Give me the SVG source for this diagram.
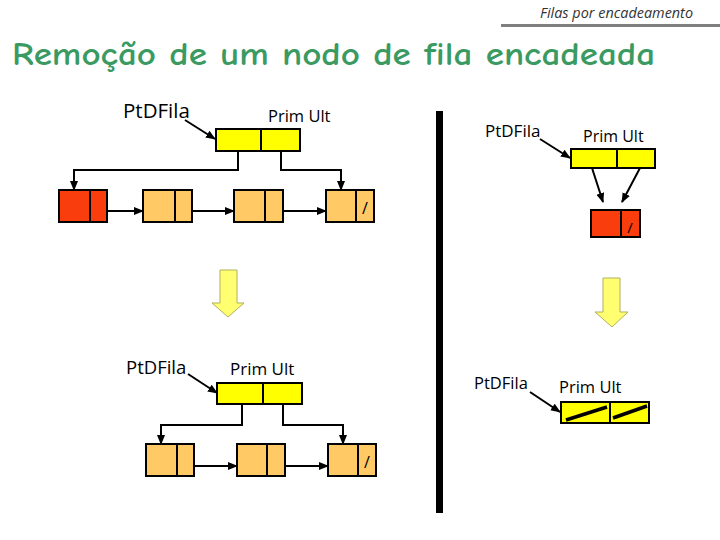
<svg xmlns="http://www.w3.org/2000/svg" width="720" height="540" viewBox="0 0 720 540">
<defs>
<style>
.cal{font-family:"Open Sans","Liberation Sans",sans-serif;fill:#000}
.box{stroke:#000;stroke-width:2}
.yel{fill:#FFFF00}
.org{fill:#FFC966}
.red{fill:#F93D0C}
.ln{fill:none;stroke:#000;stroke-width:2}
.bar{fill:#FFFF70;stroke:#B0B060;stroke-width:1}
</style>
<marker id="ah" markerWidth="10" markerHeight="10" refX="9" refY="5" orient="auto" markerUnits="userSpaceOnUse">
<path d="M0,1 L10,5 L0,9 Z" fill="#000"/>
</marker>
</defs>
<rect width="720" height="540" fill="#fff"/>
<g id="header">
<text x="540" y="18" font-family="'Open Sans','Liberation Sans',sans-serif" font-style="italic" font-size="14" fill="#333" textLength="153" lengthAdjust="spacingAndGlyphs">Filas por encadeamento</text>
<rect x="501" y="24" width="219" height="3" fill="#7F7F7F"/>
</g>
<g id="title">
<text x="12" y="65" font-family="'Comic Neue','DejaVu Sans',sans-serif" font-weight="bold" font-size="32" fill="#3A9A62" textLength="643" lengthAdjust="spacingAndGlyphs">Remoção de um nodo de fila encadeada</text>
</g>
<g id="divider"><rect x="436" y="111" width="7" height="402" fill="#000"/></g>

<!-- Top left -->
<g id="tl-label"><text class="cal" x="123" y="118" font-size="20.5">PtDFila</text><text class="cal" x="268" y="122" font-size="16.5">Prim Ult</text></g>
<g id="tl-head"><rect class="box yel" x="216" y="129" width="84" height="22"/><line class="ln" x1="261" y1="129" x2="261" y2="151"/></g>
<g id="tl-n1"><rect class="box red" x="59" y="190" width="48" height="32"/><line class="ln" x1="90" y1="190" x2="90" y2="222"/></g>
<g id="tl-n2"><rect class="box org" x="143" y="190" width="49" height="32"/><line class="ln" x1="175" y1="190" x2="175" y2="222"/></g>
<g id="tl-n3"><rect class="box org" x="234" y="190" width="49" height="32"/><line class="ln" x1="265" y1="190" x2="265" y2="222"/></g>
<g id="tl-n4"><rect class="box org" x="326" y="190" width="48" height="32"/><line class="ln" x1="356" y1="190" x2="356" y2="222"/><text class="cal" x="365" y="214" font-size="16" text-anchor="middle">/</text></g>

<!-- Top right -->
<g id="tr-label"><text class="cal" x="485" y="137" font-size="17">PtDFila</text><text class="cal" x="583" y="142" font-size="16">Prim  Ult</text></g>
<g id="tr-head"><rect class="box yel" x="571" y="149" width="84" height="19"/><line class="ln" x1="617" y1="149" x2="617" y2="168"/></g>
<g id="tr-n1"><rect class="box red" x="591" y="210" width="49" height="27"/><line class="ln" x1="621" y1="210" x2="621" y2="237"/><text class="cal" x="630" y="233" font-size="15" text-anchor="middle">/</text></g>

<!-- Block arrows -->
<g id="down1"><path class="bar" d="M220,270 L237,270 L237,303 L244,303 L228,317 L212,303 L220,303 Z"/></g>
<g id="down2"><path class="bar" d="M603,278 L620,278 L620,312 L628,312 L612,327 L595,312 L603,312 Z"/></g>

<!-- Bottom left -->
<g id="bl-label"><text class="cal" x="126" y="374" font-size="18.5">PtDFila</text><text class="cal" x="230" y="375" font-size="17">Prim Ult</text></g>
<g id="bl-head"><rect class="box yel" x="217" y="383" width="85" height="21"/><line class="ln" x1="263" y1="383" x2="263" y2="404"/></g>
<g id="bl-n1"><rect class="box org" x="146" y="444" width="48" height="32"/><line class="ln" x1="177" y1="444" x2="177" y2="476"/></g>
<g id="bl-n2"><rect class="box org" x="237" y="444" width="48" height="32"/><line class="ln" x1="267" y1="444" x2="267" y2="476"/></g>
<g id="bl-n3"><rect class="box org" x="328" y="444" width="48" height="32"/><line class="ln" x1="358" y1="444" x2="358" y2="476"/><text class="cal" x="367" y="468" font-size="16" text-anchor="middle">/</text></g>

<!-- Bottom right -->
<g id="br-label"><text class="cal" x="474" y="389" font-size="16.5">PtDFila</text><text class="cal" x="559" y="393" font-size="16.5">Prim  Ult</text></g>
<g id="br-head"><rect class="box yel" x="561" y="402" width="88" height="21"/><line class="ln" x1="610" y1="402" x2="610" y2="423"/>
<line x1="566" y1="420" x2="607" y2="407" stroke="#000" stroke-width="3.5"/><line x1="613" y1="418" x2="647" y2="406" stroke="#000" stroke-width="3.5"/></g>

<g id="connectors">
<line class="ln" x1="185" y1="120" x2="215" y2="139" marker-end="url(#ah)"/>
<polyline class="ln" points="238,151 238,170 74,170 74,190" marker-end="url(#ah)"/>
<polyline class="ln" points="281,151 281,170 341,170 341,190" marker-end="url(#ah)"/>
<line class="ln" x1="107" y1="211" x2="143" y2="211" marker-end="url(#ah)"/>
<line class="ln" x1="192" y1="211" x2="234" y2="211" marker-end="url(#ah)"/>
<line class="ln" x1="283" y1="211" x2="326" y2="211" marker-end="url(#ah)"/>

<line class="ln" x1="540" y1="139" x2="570" y2="158" marker-end="url(#ah)"/>
<line class="ln" x1="592" y1="168" x2="603" y2="202" marker-end="url(#ah)"/>
<line class="ln" x1="640" y1="168" x2="622" y2="202" marker-end="url(#ah)"/>

<line class="ln" x1="188" y1="374" x2="217" y2="393" marker-end="url(#ah)"/>
<polyline class="ln" points="242,404 242,425 161,425 161,444" marker-end="url(#ah)"/>
<polyline class="ln" points="283,404 283,425 343,425 343,444" marker-end="url(#ah)"/>
<line class="ln" x1="194" y1="466" x2="237" y2="466" marker-end="url(#ah)"/>
<line class="ln" x1="285" y1="466" x2="328" y2="466" marker-end="url(#ah)"/>

<line class="ln" x1="530" y1="392" x2="560" y2="412" marker-end="url(#ah)"/>
</g>
</svg>
